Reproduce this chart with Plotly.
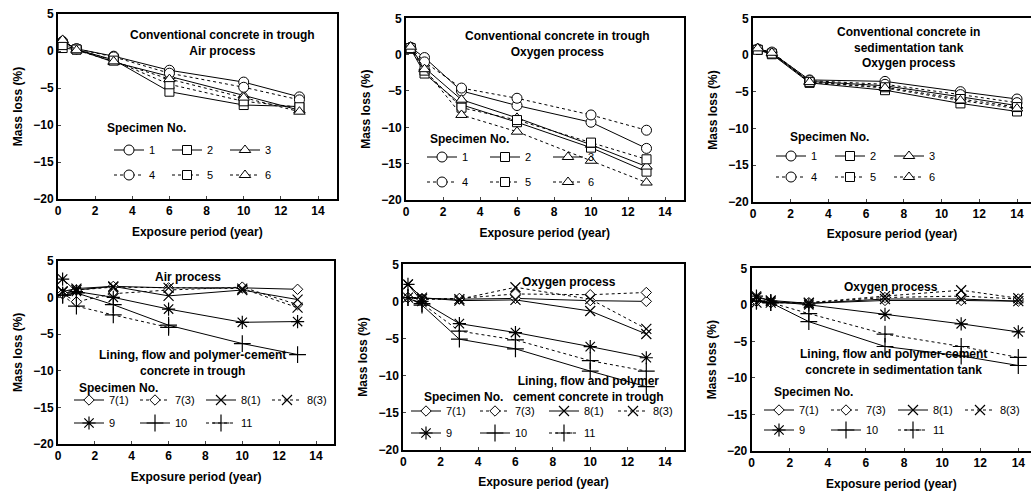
import plotly.graph_objects as go

W, H = 1031, 492

# ---------------- data ----------------
x_trough = [0.25, 1, 3, 6, 10, 13]
x_tank = [0.25, 1, 3, 7, 11, 14]

conv_names = ["1", "2", "3", "4", "5", "6"]
lin_names = ["7(1)", "7(3)", "8(1)", "8(3)", "9", "10", "11"]

# Conventional concrete in trough, air process
trough_air = {
    "1": [1.3, 0.3, -0.7, -2.6, -4.2, -6.2],
    "2": [0.4, 0.2, -1.2, -5.5, -7.3, -7.5],
    "3": [1.4, 0.2, -1.5, -3.4, -6.0, -8.0],
    "4": [1.2, 0.3, -0.8, -3.0, -4.9, -6.6],
    "5": [0.8, 0.2, -1.3, -4.5, -6.8, -7.6],
    "6": [1.5, 0.1, -1.4, -3.8, -6.3, -8.2],
}
# Conventional concrete in trough, oxygen process
trough_oxy = {
    "1": [1.0, -0.4, -5.0, -7.0, -9.3, -12.9],
    "2": [0.8, -2.6, -6.9, -9.3, -12.8, -16.1],
    "3": [1.0, -1.8, -6.2, -8.7, -12.4, -15.4],
    "4": [1.0, -1.0, -4.6, -6.0, -8.3, -10.4],
    "5": [0.9, -2.2, -7.3, -9.0, -12.1, -14.4],
    "6": [1.1, -2.0, -8.3, -10.6, -14.6, -17.6],
}
# Conventional concrete in sedimentation tank, oxygen process
tank_oxy = {
    "1": [0.8, 0.3, -3.4, -3.6, -5.0, -6.0],
    "2": [0.7, 0.1, -3.8, -4.8, -6.6, -7.7],
    "3": [0.9, 0.2, -3.6, -4.2, -5.7, -6.9],
    "4": [0.8, 0.4, -3.5, -4.0, -5.4, -6.5],
    "5": [0.7, 0.2, -3.7, -4.4, -6.0, -7.1],
    "6": [0.9, 0.3, -3.7, -4.5, -6.2, -7.3],
}
# Lining, flow and polymer-cement concrete in trough, air process
lin_trough_air = {
    "7(1)": [0.5, 1.0, 1.5, 1.3, 1.3, 1.1],
    "7(3)": [0.5, -0.6, 0.5, 1.0, 1.4, -1.0],
    "8(1)": [0.8, 1.2, 1.5, 0.2, 1.0, -0.3],
    "8(3)": [0.8, 1.0, 1.4, 1.3, 1.2, -1.4],
    "9": [2.5, 0.8, 0.0, -1.6, -3.4, -3.3],
    "10": [0.3, 0.6, -1.0, -3.8, -6.3, -7.8],
    "11": [0.3, -1.2, -2.4, -4.1, None, None],
}
# Lining, flow and polymer-cement concrete in trough, oxygen process
lin_trough_oxy = {
    "7(1)": [0.5, 0.4, 0.3, 0.4, 0.1, 0.0],
    "7(3)": [0.5, 0.3, 0.4, 1.0, 0.9, 1.2],
    "8(1)": [2.3, 0.5, 0.1, 0.2, -1.3, -4.4],
    "8(3)": [0.5, 0.3, 0.3, 1.9, 0.3, -3.7],
    "9": [2.3, 0.0, -3.0, -4.2, -6.1, -7.6],
    "10": [0.5, -0.5, -5.1, -6.4, -9.4, -11.5],
    "11": [0.5, -0.3, -4.0, -5.2, -8.0, -9.4],
}
# Lining, flow and polymer-cement concrete in sedimentation tank, oxygen process
lin_tank_oxy = {
    "7(1)": [0.5, 0.3, 0.2, 0.6, 0.6, 0.5],
    "7(3)": [0.5, 0.3, 0.3, 1.0, 1.2, 0.8],
    "8(1)": [1.0, 0.6, 0.2, 0.8, 0.8, 0.5],
    "8(3)": [0.3, 0.3, 0.3, 1.2, 2.0, 0.9],
    "9": [1.2, 0.5, 0.0, -1.3, -2.6, -3.7],
    "10": [0.5, 0.3, -2.3, -5.7, -7.0, -8.3],
    "11": [0.5, 0.3, -1.2, -4.0, -5.7, -7.2],
}

y_ticks = [5, 0, -5, -10, -15, -20]
x_ticks = [0, 2, 4, 6, 8, 10, 12, 14]

# ---------------- styles ----------------
STY = {
    "1": ("circle", 10, "solid"), "2": ("square", 9, "solid"), "3": ("triangle-up", 10, "solid"),
    "4": ("circle", 10, "dot"), "5": ("square", 9, "dot"), "6": ("triangle-up", 10, "dot"),
    "7(1)": ("diamond", 8, "solid"), "7(3)": ("diamond", 8, "dot"),
    "8(1)": ("x-thin-open", 10, "solid"), "8(3)": ("x-thin-open", 10, "dot"),
    "9": ("asterisk-open", 11, "solid"), "10": ("cross-thin-open", 12, "solid"),
    "11": ("cross-thin-open", 12, "dot"),
}

FONT = "Liberation Sans"

# panel geometry in pixels: x of value 0, px per unit, x range end, y top(5), y bottom(-20)
panels = [
    dict(x0=58, ppu=260 / 14, xmax=15, yt=14, yb=199),
    dict(x0=406, ppu=259 / 14, xmax=15, yt=18.3, yb=200),
    dict(x0=753, ppu=264 / 14, xmax=None, yt=18.3, yb=201.7),
    dict(x0=58, ppu=258 / 14, xmax=15, yt=260.7, yb=444),
    dict(x0=403.3, ppu=261.7 / 14, xmax=15, yt=264.3, yb=449.7),
    dict(x0=751.7, ppu=266.6 / 14, xmax=None, yt=268.3, yb=451),
]
datasets = [
    (x_trough, trough_air, conv_names), (x_trough, trough_oxy, conv_names), (x_tank, tank_oxy, conv_names),
    (x_trough, lin_trough_air, lin_names), (x_trough, lin_trough_oxy, lin_names), (x_tank, lin_tank_oxy, lin_names),
]
# legend rows: line start px, centre y px of the two rows, item pitch px
LEG_OFF = -4
leg_pos = [
    (113, 150, 175, 55),
    (426, 157, 182, 60),
    (775, 156, 177, 56),
    (73, 400, 423, 63),
    (410, 411, 433, 66),
    (763, 410, 430, 64),
]

fig = go.Figure()
layout = dict(template="none", width=W, height=H,
              margin=dict(l=0, r=0, t=0, b=0, pad=0, autoexpand=False),
              paper_bgcolor="white", plot_bgcolor="white", showlegend=True,
              font=dict(family=FONT, color="black"))
annotations = []

for i, (p, (xs, ser, names)) in enumerate(zip(panels, datasets)):
    k = i + 1
    xa = "xaxis" if k == 1 else f"xaxis{k}"
    ya = "yaxis" if k == 1 else f"yaxis{k}"
    xr = "x" if k == 1 else f"x{k}"
    yr = "y" if k == 1 else f"y{k}"
    if p["xmax"] is None:
        right_px = W
        xmax = (W - p["x0"]) / p["ppu"]
    else:
        xmax = p["xmax"]
        right_px = p["x0"] + xmax * p["ppu"]
    layout[xa] = dict(domain=[p["x0"] / W, right_px / W], range=[0, xmax], anchor=yr,
                      tickvals=x_ticks, ticks="inside", ticklen=3, showline=True, mirror=True,
                      linewidth=2, linecolor="black", showgrid=False, zeroline=False,
                      automargin=False,
                      tickfont=dict(family=FONT, size=12, weight="bold", color="black"),
                      title=dict(text="Exposure period (year)", standoff=10,
                                 font=dict(family=FONT, size=12, weight="bold", color="black")))
    layout[ya] = dict(domain=[1 - p["yb"] / H, 1 - p["yt"] / H], range=[-20, 5], anchor=xr,
                      tickvals=y_ticks, ticks="inside", ticklen=3, showline=True, mirror=True,
                      linewidth=2, linecolor="black", showgrid=False, zeroline=False,
                      automargin=False,
                      tickfont=dict(family=FONT, size=12, weight="bold", color="black"),
                      title=dict(text="Mass loss (%)", standoff=8,
                                 font=dict(family=FONT, size=12, weight="bold", color="black")))
    n_first = 3 if len(names) == 6 else 4
    lx, ly1, ly2, pitch = leg_pos[i]
    for j, nm in enumerate(names):
        sym, sz, dash = STY[nm]
        row = 0 if j < n_first else 1
        li = i * 2 + row + 1
        lname = "legend" if li == 1 else f"legend{li}"
        is_open = sym.endswith("-open")
        fig.add_trace(go.Scatter(
            x=xs, y=ser[nm], name=nm, mode="lines+markers", xaxis=xr, yaxis=yr,
            legend=lname, connectgaps=False,
            line=dict(color="black", width=1, dash=dash),
            marker=dict(symbol=sym, size=sz, color="black" if is_open else "white",
                        line=dict(color="black", width=1.2 if is_open else 1)),
        ))
    for row, ly in enumerate((ly1, ly2)):
        li = i * 2 + row + 1
        lname = "legend" if li == 1 else f"legend{li}"
        layout[lname] = dict(x=(lx + LEG_OFF) / W, y=1 - ly / H, xanchor="left", yanchor="middle",
                             orientation="h", bgcolor="rgba(0,0,0,0)", borderwidth=0,
                             entrywidth=pitch - 42, entrywidthmode="pixels", itemwidth=30,
                             font=dict(family=FONT, size=11, color="black"),
                             traceorder="normal")


def ann(text, xpx, ypx, size=12, align="center", xanchor="center"):
    annotations.append(dict(text=text, x=xpx / W, y=1 - ypx / H, xref="paper", yref="paper",
                            showarrow=False, align=align, xanchor=xanchor, yanchor="middle",
                            font=dict(family=FONT, size=size, weight="bold", color="black")))


ann("Conventional concrete in trough<br>Air process", 222, 43)
ann("Conventional concrete in trough<br>Oxygen process", 557, 44)
ann("Conventional concrete in<br>sedimentation tank<br>Oxygen process", 908, 48)
ann("Air process", 188, 277)
ann("Lining, flow and polymer-cement<br>concrete in trough", 192, 363)
ann("Oxygen process", 569, 282)
ann("Lining, flow and polymer<br>cement concrete in trough", 588, 389)
ann("Oxygen process", 891, 287)
ann("Lining, flow and polymer-cement<br>concrete in sedimentation tank", 893, 362)

spec = [(105, 128), (428, 139), (788, 137), (77, 388), (422, 397), (772, 392)]
for sx, sy in spec:
    ann("Specimen No.", sx, sy, xanchor="left")

layout["annotations"] = annotations
fig.update_layout(**layout)
fig.write_html("out.html")
